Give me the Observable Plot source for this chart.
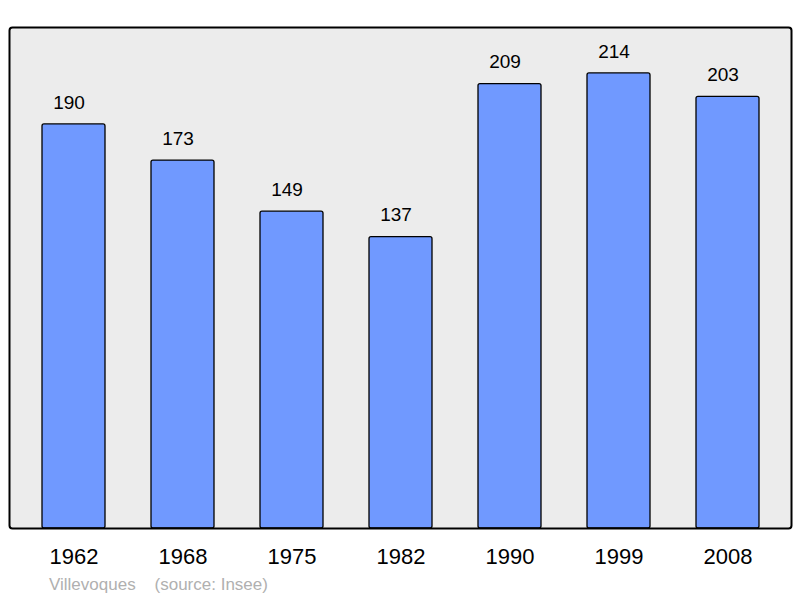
<!DOCTYPE html>
<html>
<head>
<meta charset="utf-8">
<script src="https://cdn.jsdelivr.net/npm/d3@7"></script>
<script src="https://cdn.jsdelivr.net/npm/@observablehq/plot@0.6"></script>
<style>
  body { margin: 0; background: #fff; font-family: "Liberation Sans", Arial, sans-serif; }
  #caption { height: 26px; line-height: 26px; font-size: 17px; color: #b0b0b0; padding-left: 49px; white-space: pre; }
</style>
</head>
<body>
<div id="chart"></div>
<div id="caption"></div>
<script>
const years = ["1962", "1968", "1975", "1982", "1990", "1999", "2008"];
const population = [190, 173, 149, 137, 209, 214, 203];
const commune = "Villevoques";
const source = "(source: Insee)";

const data = years.map((y, i) => ({year: y, value: population[i]}));

const chart = Plot.plot({
  width: 800,
  height: 572,
  marginLeft: 9,
  marginRight: 9,
  marginTop: 27,
  marginBottom: 44,
  style: {fontFamily: "'Liberation Sans', Arial, sans-serif", fontSize: "22px", color: "#000", background: "#fff"},
  x: {domain: years, paddingInner: 0.42, paddingOuter: 0.285, align: 0.51, tickSize: 0, tickPadding: 20, label: null},
  y: {domain: [0, 235.6], axis: null},
  marks: [
    Plot.frame({fill: "#ececec", stroke: "none", rx: 3}),
    Plot.barY(data, {x: "year", y: "value", fill: "#7099ff", stroke: "#000", strokeWidth: 1.3, rx: 2}),
    Plot.text(data, {x: "year", y: "value", text: d => String(d.value), dy: -22, dx: -5, fontSize: 19, fill: "#000"}),
    Plot.frame({fill: "none", stroke: "#000", strokeWidth: 2, rx: 3})
  ]
});
document.getElementById("chart").appendChild(chart);
document.getElementById("caption").textContent = commune + "    " + source;
</script>
</body>
</html>
